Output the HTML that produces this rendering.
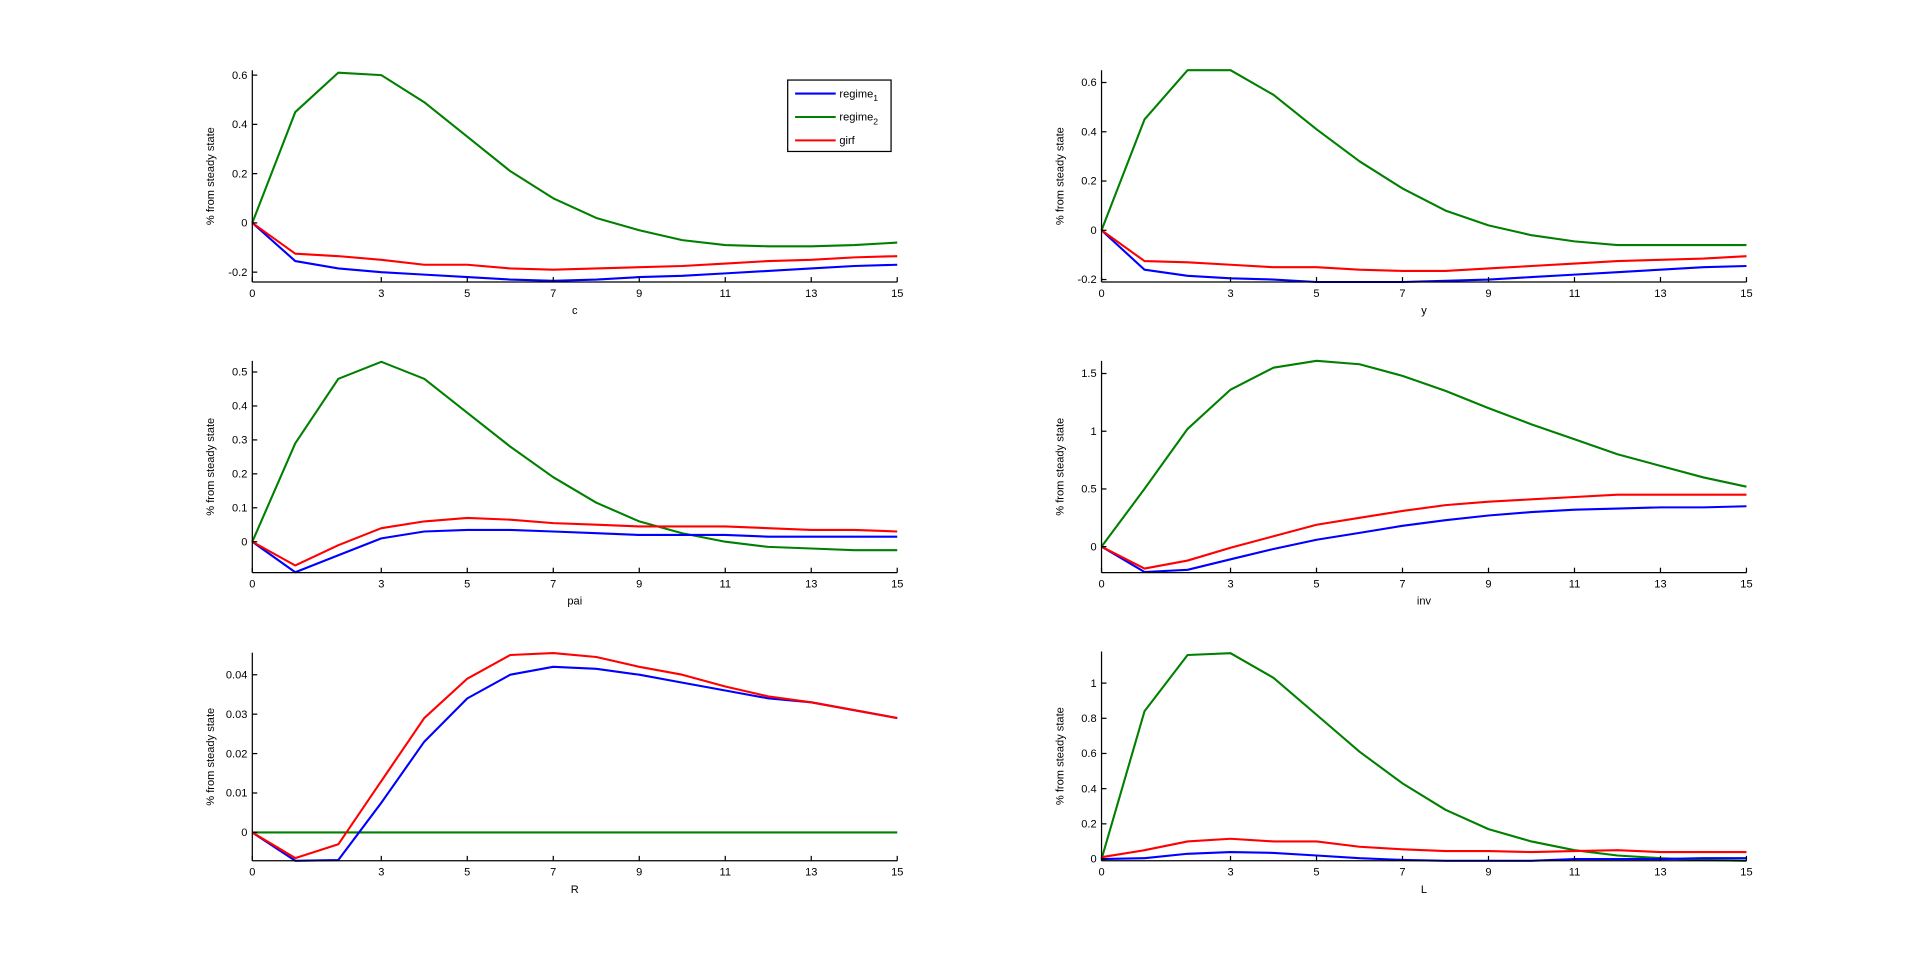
<!DOCTYPE html>
<html><head><meta charset="utf-8"><style>
html,body{margin:0;padding:0;background:#fff;}
svg{display:block;}
text{font-family:"Liberation Sans",sans-serif;fill:#000;}
</style></head><body>
<svg id="s" width="1920" height="963" viewBox="0 0 1560 782" preserveAspectRatio="none" xmlns="http://www.w3.org/2000/svg"></svg>
<script>
const NS="http://www.w3.org/2000/svg";
const svg=document.getElementById('s');
function el(t,a,txt){const e=document.createElementNS(NS,t);for(const k in a)e.setAttribute(k,a[k]);if(txt!==undefined)e.textContent=txt;svg.appendChild(e);return e;}
const plots=[
 {x0:205,x1:729,yt:57,yb:229,ymin:-0.24,ymax:0.62,ticks:[-0.2,0,0.2,0.4,0.6],lab:'c',fmt:v=>v.toFixed(1).replace('0.0','0'),
  g:[0,.45,.61,.60,.49,.35,.21,.10,.02,-.03,-.07,-.09,-.095,-.095,-.09,-.08],
  b:[0,-.155,-.185,-.20,-.21,-.22,-.23,-.235,-.23,-.22,-.215,-.205,-.195,-.185,-.175,-.17],
  r:[0,-.125,-.135,-.15,-.17,-.17,-.185,-.19,-.185,-.18,-.175,-.165,-.155,-.15,-.14,-.135]},
 {x0:895,x1:1419,yt:57,yb:229,ymin:-0.21,ymax:0.65,ticks:[-0.2,0,0.2,0.4,0.6],lab:'y',
  g:[0,.45,.65,.65,.55,.41,.28,.17,.08,.02,-.02,-.045,-.06,-.06,-.06,-.06],
  b:[0,-.16,-.185,-.195,-.2,-.21,-.215,-.21,-.205,-.2,-.19,-.18,-.17,-.16,-.15,-.145],
  r:[0,-.125,-.13,-.14,-.15,-.15,-.16,-.165,-.165,-.155,-.145,-.135,-.125,-.12,-.115,-.105]},
 {x0:205,x1:729,yt:293,yb:465,ymin:-0.091,ymax:0.533,ticks:[0,0.1,0.2,0.3,0.4,0.5],lab:'pai',
  g:[0,.29,.48,.53,.48,.38,.28,.19,.115,.06,.025,0,-.015,-.02,-.025,-.025],
  b:[0,-.09,-.04,.01,.03,.035,.035,.03,.025,.02,.02,.02,.015,.015,.015,.015],
  r:[0,-.07,-.01,.04,.06,.07,.065,.055,.05,.045,.045,.045,.04,.035,.035,.03]},
 {x0:895,x1:1419,yt:293,yb:465,ymin:-0.225,ymax:1.61,ticks:[0,0.5,1,1.5],lab:'inv',
  g:[0,.5,1.02,1.36,1.55,1.61,1.58,1.48,1.35,1.2,1.06,.93,.8,.7,.6,.52],
  b:[0,-.22,-.2,-.11,-.02,.06,.12,.18,.23,.27,.3,.32,.33,.34,.34,.35],
  r:[0,-.19,-.12,-.01,.09,.19,.25,.31,.36,.39,.41,.43,.45,.45,.45,.45]},
 {x0:205,x1:729,yt:530,yb:699,ymin:-0.0072,ymax:0.0456,ticks:[0,0.01,0.02,0.03,0.04],lab:'R',
  g:new Array(16).fill(0),
  b:[0,-.0075,-.007,.0075,.023,.034,.040,.042,.0415,.040,.038,.036,.034,.033,.031,.029],
  r:[0,-.0065,-.003,.013,.029,.039,.045,.0455,.0445,.042,.040,.037,.0345,.033,.031,.029]},
 {x0:895,x1:1419,yt:529,yb:699,ymin:-0.01,ymax:1.18,ticks:[0,0.2,0.4,0.6,0.8,1],lab:'L',
  g:[0,.84,1.16,1.17,1.03,.82,.61,.43,.28,.17,.1,.05,.02,.005,-.005,-.01],
  b:[0,.005,.03,.04,.035,.02,.005,-.005,-.01,-.01,-.01,0,0,0,.005,.005],
  r:[.01,.05,.1,.115,.1,.1,.07,.055,.045,.045,.04,.045,.05,.04,.04,.04]}
];
function fmt(v){if(v===0)return '0';let s=String(+v.toFixed(3));return s;}
for(const p of plots){
 const X=i=>p.x0+(p.x1-p.x0)*i/15;
 const Y=v=>p.yb-(p.yb-p.yt)*(v-p.ymin)/(p.ymax-p.ymin);
 for(const [k,c] of [['g','#008000'],['b','#0000ff'],['r','#ff0000']]){
  el('polyline',{points:p[k].map((v,i)=>X(i).toFixed(1)+','+Math.max(p.yt,Math.min(p.yb,Y(v))).toFixed(1)).join(' '),fill:'none',stroke:c,'stroke-width':1.7,'stroke-linejoin':'round'});
 }
 el('line',{x1:p.x0,y1:p.yt,x2:p.x0,y2:p.yb,stroke:'#000','stroke-width':1});
 el('line',{x1:p.x0,y1:p.yb,x2:p.x1,y2:p.yb,stroke:'#000','stroke-width':1});
 for(const t of [0,3,5,7,9,11,13,15]){
  el('line',{x1:X(t),y1:p.yb,x2:X(t),y2:p.yb-4,stroke:'#000','stroke-width':1});
  el('text',{x:X(t),y:p.yb+12,'font-size':9,'text-anchor':'middle'},String(t));
 }
 for(const t of p.ticks){
  const y=Y(t);
  el('line',{x1:p.x0,y1:y,x2:p.x0+4,y2:y,stroke:'#000','stroke-width':1});
  el('text',{x:p.x0-4,y:y+3,'font-size':9,'text-anchor':'end'},fmt(t));
 }
 el('text',{x:(p.x0+p.x1)/2,y:p.yb+26,'font-size':9,'text-anchor':'middle'},p.lab);
 const cy=(p.yt+p.yb)/2, cx=p.x0-31;
 el('text',{x:cx,y:cy,'font-size':9,'text-anchor':'middle',transform:`rotate(-90 ${cx} ${cy})`},'% from steady state');
}
// legend
el('rect',{x:640,y:65,width:84,height:58,fill:'#fff',stroke:'#000','stroke-width':1});
const L=[['#0000ff','regime','1',77],['#008000','regime','2',96],['#ff0000','girf','',115]];
for(const [c,t,sub,y] of L){
 el('line',{x1:646,y1:y-1,x2:679,y2:y-1,stroke:c,'stroke-width':1.7});
 const tx=el('text',{x:682,y:y+2,'font-size':9},t);
 if(sub){const ts=document.createElementNS(NS,'tspan');ts.setAttribute('font-size',7);ts.setAttribute('dy',3);ts.textContent=sub;tx.appendChild(ts);}
}
</script>
</body></html>
